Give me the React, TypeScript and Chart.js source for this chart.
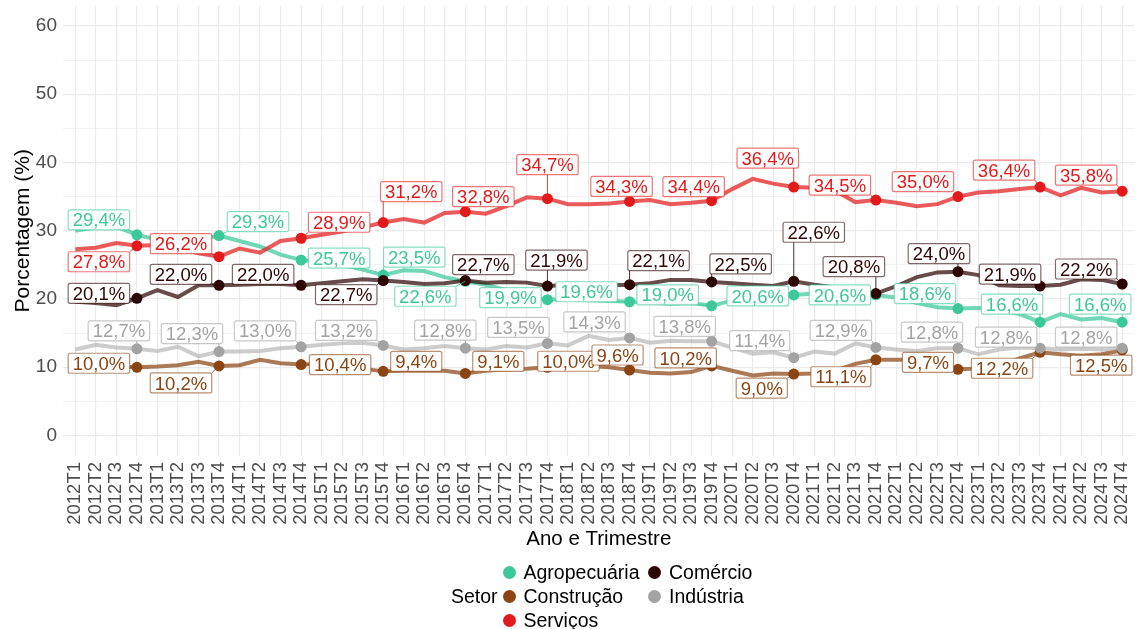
import React, { useEffect, useRef } from "react";
import { Chart, registerables } from "chart.js";

Chart.register(...registerables);

const quarters: string[] = [
  "2012T1", "2012T2", "2012T3", "2012T4",
  "2013T1", "2013T2", "2013T3", "2013T4",
  "2014T1", "2014T2", "2014T3", "2014T4",
  "2015T1", "2015T2", "2015T3", "2015T4",
  "2016T1", "2016T2", "2016T3", "2016T4",
  "2017T1", "2017T2", "2017T3", "2017T4",
  "2018T1", "2018T2", "2018T3", "2018T4",
  "2019T1", "2019T2", "2019T3", "2019T4",
  "2020T1", "2020T2", "2020T3", "2020T4",
  "2021T1", "2021T2", "2021T3", "2021T4",
  "2022T1", "2022T2", "2022T3", "2022T4",
  "2023T1", "2023T2", "2023T3", "2023T4",
  "2024T1", "2024T2", "2024T3", "2024T4",
];

const agropecuaria: number[] = [
  30.0, 30.5, 30.6, 29.4, 28.7, 28.3, 28.6, 29.3, 28.5, 27.7, 26.5, 25.7,
  25.4, 25.0, 24.3, 23.5, 24.2, 24.1, 23.2, 22.6, 22.1, 21.3, 20.4, 19.9,
  20.0, 19.8, 19.7, 19.6, 19.5, 19.3, 19.4, 19.0, 19.8, 20.3, 20.5, 20.6,
  20.8, 20.6, 20.7, 20.6, 20.2, 19.4, 18.8, 18.6, 18.7, 18.4, 17.8, 16.6,
  17.8, 17.0, 17.2, 16.6,
];

const comercio: number[] = [
  19.6, 19.4, 19.1, 20.1, 21.3, 20.3, 22.0, 22.0, 22.1, 22.2, 22.2, 22.0,
  22.3, 22.6, 22.9, 22.7, 22.5, 22.2, 22.3, 22.7, 22.4, 22.5, 22.4, 21.9,
  22.1, 22.1, 22.0, 22.1, 22.3, 22.8, 22.8, 22.5, 22.3, 22.1, 21.9, 22.6,
  22.1, 21.7, 21.1, 20.8, 21.9, 23.2, 23.9, 24.0, 23.5, 22.0, 21.9, 21.9,
  22.1, 22.9, 22.8, 22.2,
];

const construcao: number[] = [
  10.2, 10.3, 10.1, 10.0, 10.1, 10.3, 10.8, 10.2, 10.3, 11.1, 10.6, 10.4,
  10.5, 10.2, 9.8, 9.4, 9.5, 9.5, 9.5, 9.1, 9.5, 9.7, 9.8, 10.0,
  10.1, 10.2, 10.0, 9.6, 9.2, 9.1, 9.3, 10.2, 9.5, 8.8, 9.1, 9.0,
  9.1, 9.5, 10.5, 11.1, 11.1, 11.1, 10.4, 9.7, 9.8, 10.3, 11.3, 12.2,
  11.9, 11.7, 11.9, 12.5,
];

const industria: number[] = [
  12.6, 13.3, 12.9, 12.7, 12.4, 13.0, 11.6, 12.3, 12.3, 12.4, 12.8, 13.0,
  13.3, 13.5, 13.6, 13.2, 12.6, 12.8, 13.1, 12.8, 12.6, 13.1, 12.9, 13.5,
  13.2, 14.6, 14.0, 14.3, 13.6, 13.9, 13.8, 13.8, 12.9, 12.0, 12.2, 11.4,
  12.3, 12.0, 13.5, 12.9, 12.6, 12.4, 12.8, 12.8, 11.9, 12.6, 12.9, 12.8,
  12.6, 12.7, 12.6, 12.8,
];

const servicos: number[] = [
  27.3, 27.5, 28.2, 27.8, 27.9, 27.4, 26.7, 26.2, 27.4, 26.8, 28.5, 28.9,
  29.4, 29.9, 30.5, 31.2, 31.7, 31.2, 32.6, 32.8, 32.5, 33.6, 34.9, 34.7,
  33.9, 33.9, 34.0, 34.3, 34.5, 33.9, 34.1, 34.4, 36.1, 37.6, 36.9, 36.4,
  36.3, 35.9, 34.2, 34.5, 34.1, 33.6, 33.9, 35.0, 35.6, 35.8, 36.1, 36.4,
  35.2, 36.3, 35.6, 35.8,
];

const sectorNames: string[] = ["Agropecuária", "Comércio", "Construção", "Indústria", "Serviços"];
const sectorValues: number[][] = [agropecuaria, comercio, construcao, industria, servicos];

const yTickValues: number[] = [0, 5, 10, 15, 20, 25, 30, 35, 40, 45, 50, 55, 60];

// ---- styles / layout (not data) ----
const FONT = '"Liberation Sans", Arial, Helvetica, sans-serif';
const sectorRGB: number[][] = [
  [60, 200, 154],
  [46, 5, 5],
  [139, 69, 19],
  [163, 163, 163],
  [227, 26, 28],
];
const rgba = (c: number[], a: number) => `rgba(${c[0]},${c[1]},${c[2]},${a})`;

// pixel nudges of each repelled label (one per year, at T4)
const labelNudges: number[][][] = [
  [[-38, -15], [39, -14], [38, -2], [31, -18], [-40, 15], [-37, -2], [-43, -10], [-44, -11], [-36, 1], [-36, 0], [-33, -15], [-28, -18], [-22, -18]],
  [[-38, -5], [-38, -11], [-38, -11], [-37, 14], [18, -16], [9, -26], [29, -24], [29, -18], [20, -49], [-22, -27], [-19, -18], [-30, -12], [-36, -15]],
  [[-38, -4], [-38, 17], [39, 0], [33, -10], [33, -12], [21, -6], [-12, -15], [-26, -8], [-32, 14], [-35, 17], [-30, -7], [-38, 16], [-21, 15]],
  [[-18, -18], [-27, -18], [-36, -16], [-37, -15], [-20, -18], [-29, -16], [-35, -16], [-27, -15], [-34, -17], [-35, -17], [-26, -16], [-34, -11], [-36, -11]],
  [[-38, 16], [-38, -13], [38, -16], [28, -31], [18, -15], [0, -34], [-8, -15], [-18, -14], [-26, -29], [-36, -15], [-35, -15], [-36, -17], [-36, -16]],
];

const fmt = (v: number) => v.toFixed(1).replace(".", ",") + "%";

const LABEL_SIZE = 18.5;

const labelPlugin = {
  id: "repelLabels",
  afterDatasetsDraw(chart: any) {
    const ctx: CanvasRenderingContext2D = chart.ctx;
    ctx.save();
    ctx.font = `${LABEL_SIZE}px ${FONT}`;
    ctx.textAlign = "center";
    ctx.textBaseline = "alphabetic";
    sectorValues.forEach((vals, di) => {
      const meta = chart.getDatasetMeta(di);
      const col = sectorRGB[di];
      labelNudges[di].forEach((nd, k) => {
        const idx = k * 4 + 3;
        const el = meta.data[idx];
        if (!el) return;
        const px = el.x;
        const py = el.y;
        const text = fmt(vals[idx]);
        const w = ctx.measureText(text).width + 9;
        const h = 20;
        const cx = px + nd[0];
        const cy = py + nd[1];
        const x0 = cx - w / 2;
        const y0 = cy - h / 2;
        const qx = Math.max(x0, Math.min(px, x0 + w));
        const qy = Math.max(y0, Math.min(py, y0 + h));
        if (Math.hypot(qx - px, qy - py) > 7) {
          ctx.beginPath();
          ctx.strokeStyle = rgba(col, 0.8);
          ctx.lineWidth = 1;
          ctx.moveTo(px, py);
          ctx.lineTo(qx, qy);
          ctx.stroke();
        }
        const r = 2;
        ctx.beginPath();
        ctx.moveTo(x0 + r, y0);
        ctx.lineTo(x0 + w - r, y0);
        ctx.quadraticCurveTo(x0 + w, y0, x0 + w, y0 + r);
        ctx.lineTo(x0 + w, y0 + h - r);
        ctx.quadraticCurveTo(x0 + w, y0 + h, x0 + w - r, y0 + h);
        ctx.lineTo(x0 + r, y0 + h);
        ctx.quadraticCurveTo(x0, y0 + h, x0, y0 + h - r);
        ctx.lineTo(x0, y0 + r);
        ctx.quadraticCurveTo(x0, y0, x0 + r, y0);
        ctx.closePath();
        ctx.fillStyle = "#ffffff";
        ctx.fill();
        ctx.strokeStyle = rgba(col, 0.6);
        ctx.lineWidth = 1.2;
        ctx.stroke();
        ctx.fillStyle = rgba(col, 1);
        ctx.fillText(text, cx, cy + LABEL_SIZE * 0.716 / 2);
      });
    });
    ctx.restore();
  },
};

export default function App() {
  const canvasRef = useRef<HTMLCanvasElement | null>(null);

  useEffect(() => {
    if (!canvasRef.current) return;
    const datasets = sectorValues.map((vals, di) => ({
      label: sectorNames[di],
      data: vals.map((v, i) => ({ x: i, y: v })),
      borderColor: rgba(sectorRGB[di], di === 3 ? 0.55 : 0.72),
      backgroundColor: rgba(sectorRGB[di], 1),
      pointBackgroundColor: rgba(sectorRGB[di], 1),
      pointBorderWidth: 0,
      pointRadius: (c: any) => (c.dataIndex % 4 === 3 ? 5.5 : 0),
      borderWidth: 4,
      tension: 0,
      order: 5 - di,
    }));

    const chart = new Chart(canvasRef.current, {
      type: "line",
      data: { datasets },
      plugins: [labelPlugin],
      options: {
        animation: false,
        responsive: false,
        devicePixelRatio: 1,
        events: [],
        layout: { padding: { top: 2, left: 0, right: 2.3, bottom: 77.4 } },
        plugins: { legend: { display: false }, tooltip: { enabled: false } },
        scales: {
          x: {
            type: "linear",
            min: -0.6,
            max: quarters.length - 1 + 0.6,
            afterBuildTicks: (axis: any) => {
              axis.ticks = quarters.map((_, i) => ({ value: i }));
            },
            afterFit: (scale: any) => {
              scale.height = 95.6;
              scale.paddingLeft = 0;
              scale.paddingRight = 0;
              scale.paddingTop = 0;
              scale.paddingBottom = 0;
            },
            grid: { color: "#EBEBEB", lineWidth: 1.2, drawTicks: false },
            border: { display: false },
            ticks: {
              autoSkip: false,
              maxRotation: 90,
              minRotation: 90,
              padding: 6,
              color: "#4D4D4D",
              font: { family: FONT, size: 18.5 },
              callback: (v: any) => quarters[Math.round(Number(v))] ?? "",
            },
            title: {
              display: true,
              text: "Ano e Trimestre",
              color: "#000000",
              font: { family: FONT, size: 20.5 },
              padding: { top: 0, bottom: 0 },
            },
          },
          y: {
            type: "linear",
            min: -3,
            max: 63,
            afterBuildTicks: (axis: any) => {
              axis.ticks = yTickValues.map((v) => ({ value: v }));
            },
            afterFit: (scale: any) => {
              scale.width = 63;
              scale.paddingLeft = 0;
              scale.paddingRight = 0;
              scale.paddingTop = 0;
              scale.paddingBottom = 0;
            },
            grid: {
              color: "#EBEBEB",
              lineWidth: (c: any) => (c.tick && c.tick.value % 10 === 0 ? 1.2 : 0.6),
              drawTicks: false,
            },
            border: { display: false },
            ticks: {
              padding: 6,
              color: "#4D4D4D",
              font: { family: FONT, size: 19 },
              callback: (v: any) => (Number(v) % 10 === 0 ? String(v) : ""),
            },
            title: {
              display: true,
              text: "Porcentagem (%)",
              color: "#000000",
              font: { family: FONT, size: 21 },
              padding: { top: 11, bottom: 0 },
            },
          },
        },
      },
    } as any);

    return () => {
      chart.destroy();
    };
  }, []);

  const legendRowY = [572, 596, 620];
  const legendDotX = [509, 654.5];
  const legendTextX = [523.5, 669];

  return (
    <div
      style={{
        position: "absolute",
        left: 0,
        top: 0,
        width: 1140,
        height: 629,
        background: "#ffffff",
        fontFamily: FONT,
        overflow: "hidden",
      }}
    >
      <canvas ref={canvasRef} width={1140} height={629} style={{ display: "block", width: 1140, height: 629 }} />
      <div
        style={{
          position: "absolute",
          left: 451,
          top: legendRowY[1] - 12,
          height: 24,
          lineHeight: "24px",
          fontSize: 19.5,
          color: "#000",
          whiteSpace: "nowrap",
        }}
      >
        Setor
      </div>
      {sectorNames.map((name, i) => {
        const col = i % 2;
        const row = Math.floor(i / 2);
        const cy = legendRowY[row];
        return (
          <React.Fragment key={name}>
            <div
              style={{
                position: "absolute",
                left: legendDotX[col] - 6.5,
                top: cy - 6.5,
                width: 13,
                height: 13,
                borderRadius: "50%",
                background: rgba(sectorRGB[i], 1),
              }}
            />
            <div
              style={{
                position: "absolute",
                left: legendTextX[col],
                top: cy - 12,
                height: 24,
                lineHeight: "24px",
                fontSize: 19.5,
                color: "#000",
                whiteSpace: "nowrap",
              }}
            >
              {name}
            </div>
          </React.Fragment>
        );
      })}
    </div>
  );
}
